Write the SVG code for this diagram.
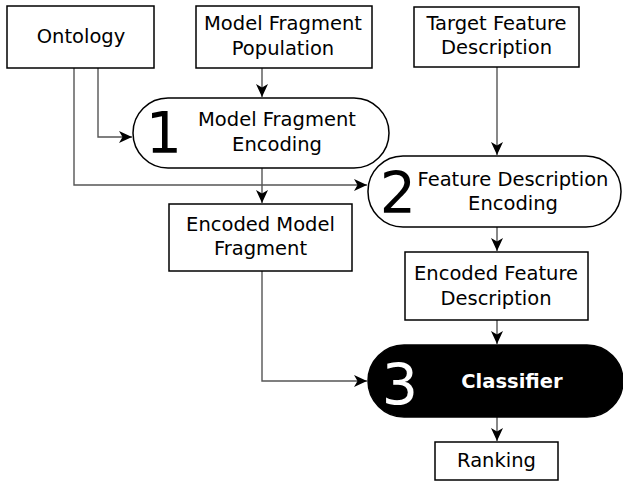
<svg xmlns="http://www.w3.org/2000/svg" width="623" height="483" viewBox="0 0 623 483">
<style>
.box{fill:#fff;stroke:#000;stroke-width:1.5}
.t{font-family:"DejaVu Sans",Verdana,sans-serif;font-size:19.5px;fill:#000;text-anchor:middle}
.num{font-family:"DejaVu Sans",Verdana,sans-serif;font-size:57px;text-anchor:middle}
.edge{fill:none;stroke:#555;stroke-width:1.4}
</style>
<defs>
<marker id="ah" markerUnits="userSpaceOnUse" markerWidth="15" markerHeight="13" refX="13" refY="6" orient="auto">
<path d="M0,0 L13,6 L0,12 L3.5,6 z" fill="#000"/>
</marker>
</defs>
<rect width="623" height="483" fill="#fff"/>
<g id="connectors">
<path class="edge" d="M98 68 V137 H132" marker-end="url(#ah)"/>
<path class="edge" d="M74 68 V185 H367" marker-end="url(#ah)"/>
<path class="edge" d="M262 68 V97" marker-end="url(#ah)"/>
<path class="edge" d="M262 168 V203" marker-end="url(#ah)"/>
<path class="edge" d="M497 67 V155" marker-end="url(#ah)"/>
<path class="edge" d="M497 227 V251" marker-end="url(#ah)"/>
<path class="edge" d="M497 320 V344" marker-end="url(#ah)"/>
<path class="edge" d="M262 271 V381 H367" marker-end="url(#ah)"/>
<path class="edge" d="M497 417 V441" marker-end="url(#ah)"/>
</g>
<g id="ontology">
<rect class="box" x="7" y="6" width="147" height="62"/>
<text class="t" x="81" y="43">Ontology</text>
</g>
<g id="mfp">
<rect class="box" x="196" y="6" width="176" height="62"/>
<text class="t" x="283" y="30">Model Fragment</text>
<text class="t" x="283" y="55">Population</text>
</g>
<g id="tfd">
<rect class="box" x="414" y="7" width="165" height="60"/>
<text class="t" x="496.5" y="30">Target Feature</text>
<text class="t" x="496.5" y="54">Description</text>
</g>
<g id="mfe">
<rect class="box" x="133" y="98" width="256" height="70" rx="35" ry="35"/>
<text class="num" x="164" y="153">1</text>
<text class="t" x="277" y="126">Model Fragment</text>
<text class="t" x="277" y="151">Encoding</text>
</g>
<g id="fde">
<rect class="box" x="368" y="156" width="253" height="71" rx="35" ry="35"/>
<text class="num" x="398" y="213">2</text>
<text class="t" x="513" y="186">Feature Description</text>
<text class="t" x="513" y="210">Encoding</text>
</g>
<g id="emf">
<rect class="box" x="169" y="204" width="183" height="67"/>
<text class="t" x="260.5" y="231">Encoded Model</text>
<text class="t" x="260.5" y="255">Fragment</text>
</g>
<g id="efd">
<rect class="box" x="405" y="252" width="183" height="68"/>
<text class="t" x="496" y="280">Encoded Feature</text>
<text class="t" x="496" y="305">Description</text>
</g>
<g id="classifier">
<rect x="368" y="345" width="255" height="72" rx="36" ry="36" fill="#000" stroke="#000" stroke-width="1.5"/>
<text class="num" x="400" y="405" fill="#fff">3</text>
<text class="t" x="512" y="388" style="fill:#fff;font-weight:bold">Classifier</text>
</g>
<g id="ranking">
<rect class="box" x="435" y="442" width="123" height="38"/>
<text class="t" x="496.5" y="467">Ranking</text>
</g>
</svg>
